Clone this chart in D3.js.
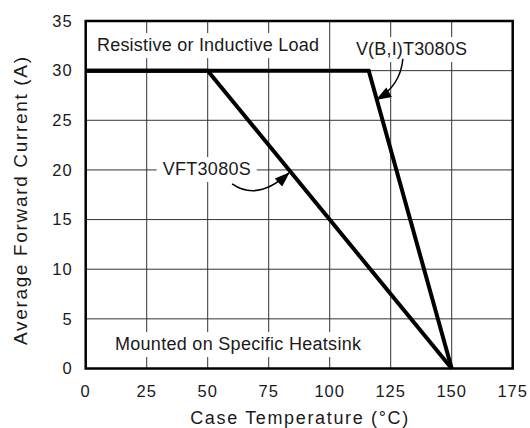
<!DOCTYPE html>
<html>
<head>
<meta charset="utf-8">
<script src="https://cdn.jsdelivr.net/npm/d3@7"></script>
<style>
  body { margin: 0; background: #fff; }
  text { font-family: "Liberation Sans", Arial, Helvetica, sans-serif; fill: #1a1a1a; }
</style>
</head>
<body>
<script>
// derating curves, case temperature (°C) vs average forward current (A)
var vftTemp = [0, 50, 150];
var vftCurrent = [30, 30, 0];
var vbiTemp = [0, 116, 150];
var vbiCurrent = [30, 30, 0];

var xTicks = [0, 25, 50, 75, 100, 125, 150, 175];
var yTicks = [0, 5, 10, 15, 20, 25, 30, 35];

var width = 530, height = 428;
var margin = { top: 21, right: 17.3, bottom: 59.5, left: 85.7 };

var svg = d3
  .select("body")
  .append("svg")
  .attr("width", width)
  .attr("height", height);

var x = d3.scaleLinear().domain([0, 175]).range([margin.left, width - margin.right]);
var y = d3.scaleLinear().domain([0, 35]).range([height - margin.bottom, margin.top]);

// arrow head
svg
  .append("defs")
  .append("marker")
  .attr("id", "arrowhead")
  .attr("viewBox", "0 -5 14 10")
  .attr("refX", 13)
  .attr("refY", 0)
  .attr("markerUnits", "userSpaceOnUse")
  .attr("markerWidth", 16)
  .attr("markerHeight", 11)
  .attr("orient", "auto")
  .append("path")
  .attr("d", "M0,-5 L14,0 L0,5 Z")
  .attr("fill", "#000");

// grid
var grid = svg.append("g").attr("stroke", "#333").attr("stroke-width", 1);
grid
  .selectAll(".vgrid")
  .data(xTicks)
  .enter()
  .append("line")
  .attr("x1", function (d) { return x(d); })
  .attr("x2", function (d) { return x(d); })
  .attr("y1", y(0))
  .attr("y2", y(35));
grid
  .selectAll(".hgrid")
  .data(yTicks)
  .enter()
  .append("line")
  .attr("y1", function (d) { return y(d); })
  .attr("y2", function (d) { return y(d); })
  .attr("x1", x(0))
  .attr("x2", x(175));

// labels inside the plot, on white boxes that cut the grid
// (t, c) is the baseline anchor in data units, len the printed width
var notes = [
  { text: "Resistive or Inductive Load", t: 4.6, c: 31.97, anchor: "start", len: 222 },
  { text: "V(B,I)T3080S", t: 133.5, c: 31.57, anchor: "middle", len: 111 },
  { text: "VFT3080S", t: 49.6, c: 19.49, anchor: "middle", len: 88 },
  { text: "Mounted on Specific Heatsink", t: 12.0, c: 1.86, anchor: "start", len: 246 }
];

var noteG = svg.append("g");
notes.forEach(function (n) {
  var t = noteG
    .append("text")
    .attr("x", x(n.t))
    .attr("y", y(n.c))
    .attr("text-anchor", n.anchor)
    .attr("textLength", n.len)
    .attr("lengthAdjust", "spacing")
    .style("font-size", "18px")
    .text(n.text);
  var b = t.node().getBBox();
  noteG
    .insert("rect", "text")
    .attr("x", b.x - 6)
    .attr("y", b.y - 2)
    .attr("width", b.width + 12)
    .attr("height", b.height + 5)
    .attr("fill", "#fff");
});

// curves
var line = d3
  .line()
  .x(function (d) { return x(d[0]); })
  .y(function (d) { return y(d[1]); });

[
  d3.zip(vftTemp, vftCurrent),
  d3.zip(vbiTemp, vbiCurrent)
].forEach(function (pts) {
  svg
    .append("path")
    .attr("d", line(pts))
    .attr("fill", "none")
    .attr("stroke", "#000")
    .attr("stroke-width", 4)
    .attr("stroke-linejoin", "miter");
});

// frame
svg
  .append("rect")
  .attr("x", x(0))
  .attr("y", y(35))
  .attr("width", x(175) - x(0))
  .attr("height", y(0) - y(35))
  .attr("fill", "none")
  .attr("stroke", "#000")
  .attr("stroke-width", 2.5);

// arrows pointing at the curves
function curve(p0, p1, p2) {
  return "M" + x(p0[0]) + "," + y(p0[1]) +
    " Q" + x(p1[0]) + "," + y(p1[1]) +
    " " + x(p2[0]) + "," + y(p2[1]);
}
svg
  .append("path")
  .attr("d", curve([130, 31.2], [129, 28.5], [119.3, 27.1]))
  .attr("fill", "none")
  .attr("stroke", "#000")
  .attr("stroke-width", 1.5)
  .attr("marker-end", "url(#arrowhead)");
svg
  .append("path")
  .attr("d", curve([60, 18.6], [70.5, 16.8], [83.3, 19.7]))
  .attr("fill", "none")
  .attr("stroke", "#000")
  .attr("stroke-width", 1.5)
  .attr("marker-end", "url(#arrowhead)");

// tick labels
svg
  .append("g")
  .selectAll("text")
  .data(xTicks)
  .enter()
  .append("text")
  .attr("x", function (d) { return x(d); })
  .attr("y", y(0) + 28)
  .attr("text-anchor", "middle")
  .style("font-size", "16.5px")
  .style("letter-spacing", "1px")
  .text(function (d) { return d; });
svg
  .append("g")
  .selectAll("text")
  .data(yTicks)
  .enter()
  .append("text")
  .attr("x", x(0) - 13)
  .attr("y", function (d) { return y(d); })
  .attr("dy", "0.35em")
  .attr("text-anchor", "end")
  .style("font-size", "16.5px")
  .style("letter-spacing", "1px")
  .text(function (d) { return d; });

// axis titles
svg
  .append("text")
  .attr("x", (x(0) + x(175)) / 2)
  .attr("y", 424)
  .attr("text-anchor", "middle")
  .attr("textLength", 218)
  .attr("lengthAdjust", "spacing")
  .style("font-size", "18px")
  .text("Case Temperature (°C)");
svg
  .append("text")
  .attr("transform", "translate(26.5,201) rotate(-90)")
  .attr("text-anchor", "middle")
  .attr("textLength", 288)
  .attr("lengthAdjust", "spacing")
  .style("font-size", "19px")
  .text("Average Forward Current (A)");
</script>
</body>
</html>
